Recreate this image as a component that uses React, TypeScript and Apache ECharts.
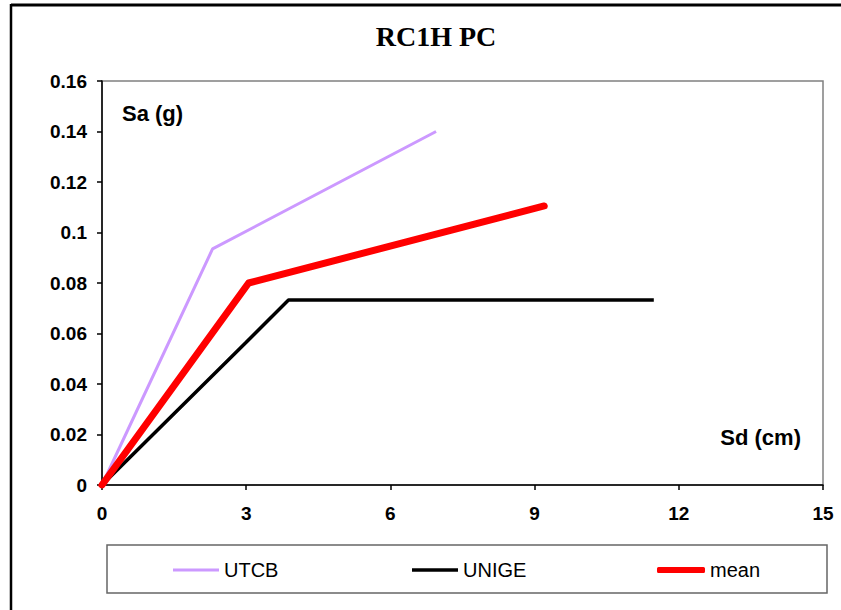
import React, { useEffect, useRef } from "react";
import * as echarts from "echarts";

const seriesNames = ["UTCB", "UNIGE", "mean"];
const utcbData: [number, number][] = [
  [0, 0],
  [2.3, 0.0935],
  [6.95, 0.14],
];
const unigeData: [number, number][] = [
  [0, 0],
  [3.0, 0.0565],
  [3.88, 0.0733],
  [11.48, 0.0733],
];
const meanData: [number, number][] = [
  [0, 0],
  [3.05, 0.08],
  [9.2, 0.1105],
];
const xTicks = { min: 0, max: 15, interval: 3 };
const yTicks = { min: 0, max: 0.16, interval: 0.02 };
const titleText = "RC1H PC";
const yAxisTitle = "Sa (g)";
const xAxisTitle = "Sd (cm)";

const SANS = "'Liberation Sans', Arial, sans-serif";
const SERIF = "'Liberation Serif', 'Times New Roman', serif";

export default function App() {
  const ref = useRef<HTMLDivElement>(null);
  useEffect(() => {
    document.body.style.margin = "0";
    if (!ref.current) return;
    const chart = echarts.init(ref.current, null, { renderer: "svg" });
    const legendCommon = {
      top: 560,
      padding: 0,
      itemWidth: 46,
      itemGap: 5,
      textStyle: { fontFamily: SANS, fontSize: 20, color: "#000" },
    };
    chart.setOption({
      animation: false,
      backgroundColor: "#fff",
      grid: { left: 102, right: 18, top: 81, bottom: 125, show: true, borderColor: "#808080", borderWidth: 1.5 },
      xAxis: {
        type: "value",
        min: xTicks.min,
        max: xTicks.max,
        interval: xTicks.interval,
        axisLine: { show: true, onZero: false, lineStyle: { color: "#000", width: 1.5 } },
        axisTick: { show: true, inside: false, length: 5, lineStyle: { color: "#000", width: 1.5 } },
        axisLabel: { margin: 19, fontFamily: SANS, fontSize: 19, fontWeight: "bold", color: "#000" },
        splitLine: { show: false },
      },
      yAxis: {
        type: "value",
        min: yTicks.min,
        max: yTicks.max,
        interval: yTicks.interval,
        axisLine: { show: true, onZero: false, lineStyle: { color: "#000", width: 1.5 } },
        axisTick: { show: true, inside: false, length: 5, lineStyle: { color: "#000", width: 1.5 } },
        axisLabel: { margin: 15, fontFamily: SANS, fontSize: 19, fontWeight: "bold", color: "#000" },
        splitLine: { show: false },
      },
      legend: [
        { ...legendCommon, left: 173, icon: "rect", itemHeight: 3, data: [seriesNames[0]] },
        { ...legendCommon, left: 412, icon: "rect", itemHeight: 3.5, data: [seriesNames[1]] },
        { ...legendCommon, left: 657, icon: "roundRect", itemHeight: 6, itemWidth: 48, data: [seriesNames[2]] },
      ],
      series: [
        {
          name: seriesNames[0],
          type: "line",
          data: utcbData,
          showSymbol: false,
          symbol: "none",
          lineStyle: { color: "#CC99FF", width: 3 },
          itemStyle: { color: "#CC99FF" },
        },
        {
          name: seriesNames[1],
          type: "line",
          data: unigeData,
          showSymbol: false,
          symbol: "none",
          lineStyle: { color: "#000000", width: 3.5 },
          itemStyle: { color: "#000000" },
        },
        {
          name: seriesNames[2],
          type: "line",
          data: meanData,
          showSymbol: false,
          symbol: "none",
          lineStyle: { color: "#FF0000", width: 7, cap: "round", join: "round" },
          itemStyle: { color: "#FF0000" },
        },
      ],
      graphic: [
        { type: "line", shape: { x1: 11, y1: 5, x2: 841, y2: 5 }, style: { stroke: "#000", lineWidth: 3 }, z: 100 },
        { type: "line", shape: { x1: 11, y1: 4, x2: 11, y2: 610 }, style: { stroke: "#000", lineWidth: 2.5 }, z: 100 },
        {
          type: "text",
          x: 436,
          y: 36,
          style: {
            text: titleText,
            fontFamily: SERIF,
            fontWeight: "bold",
            fontSize: 28,
            fill: "#000",
            textAlign: "center",
            textVerticalAlign: "middle",
          },
        },
        {
          type: "text",
          x: 122,
          y: 113,
          style: {
            text: yAxisTitle,
            fontFamily: SANS,
            fontWeight: "bold",
            fontSize: 22,
            fill: "#000",
            textAlign: "left",
            textVerticalAlign: "middle",
          },
        },
        {
          type: "text",
          x: 801,
          y: 437,
          style: {
            text: xAxisTitle,
            fontFamily: SANS,
            fontWeight: "bold",
            fontSize: 22,
            fill: "#000",
            textAlign: "right",
            textVerticalAlign: "middle",
          },
        },
        {
          type: "rect",
          shape: { x: 107, y: 545, width: 720, height: 48 },
          style: { fill: "none", stroke: "#666", lineWidth: 1.5 },
          z: -1,
        },
      ],
    });
    return () => chart.dispose();
  }, []);
  return <div ref={ref} style={{ width: 841, height: 610 }} />;
}
